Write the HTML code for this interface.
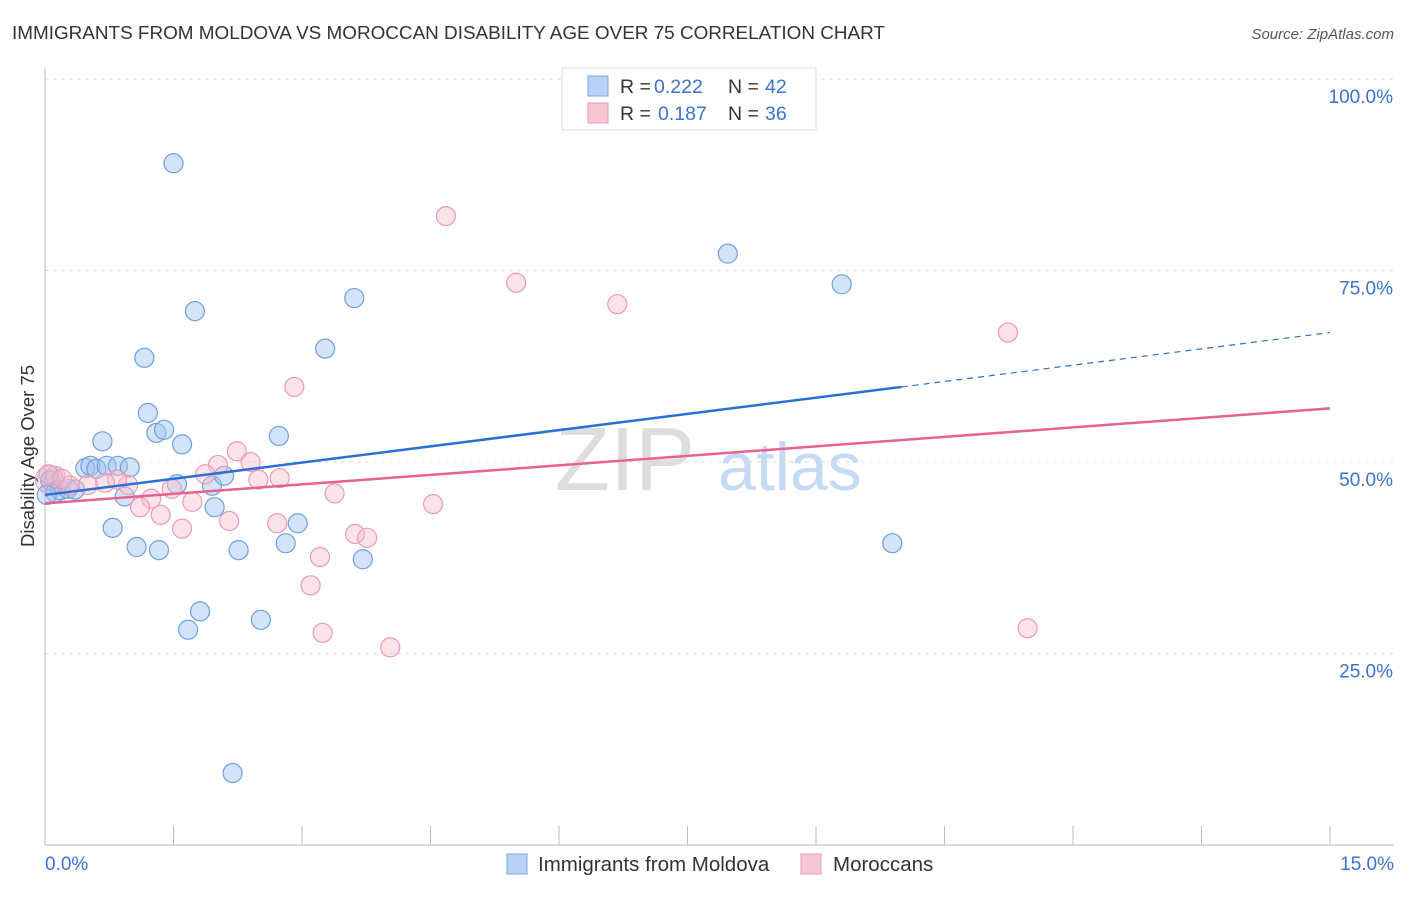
<!DOCTYPE html>
<html><head><meta charset="utf-8"><style>
body{margin:0;background:#fff;font-family:"Liberation Sans",sans-serif;}
svg text{font-family:"Liberation Sans",sans-serif;}
</style></head><body>
<svg id="chart" width="1406" height="892">
<text x="12" y="39" font-size="18.9" fill="#333">IMMIGRANTS FROM MOLDOVA VS MOROCCAN DISABILITY AGE OVER 75 CORRELATION CHART</text>
<text x="1394" y="39" font-size="15" fill="#555" text-anchor="end" font-style="italic">Source: ZipAtlas.com</text>
<text x="34" y="456" font-size="18.5" fill="#333" text-anchor="middle" transform="rotate(-90 34 456)">Disability Age Over 75</text>
<g id="grid"></g>
<g><text x="555" y="490" font-size="90" fill="#ddd" font-family="Liberation Serif">ZIP</text><text x="718" y="490" font-size="68" fill="#c7daf3">atlas</text></g>
<g id="axes"></g>
<g id="pts"></g>
<g id="trends"></g>
<g>
<rect x="562" y="68" width="254" height="62" fill="#fff" stroke="#ddd"/>
<rect x="588" y="76" width="20" height="20" fill="#b7d2f5" stroke="#7aa6e0"/>
<rect x="588" y="103" width="20" height="20" fill="#f8c6d4" stroke="#eb9ab2"/>
<text x="620" y="93" font-size="19.5" fill="#333">R =</text>
<text x="654" y="93" font-size="19.5" fill="#3a73d0">0.222</text>
<text x="728" y="93" font-size="19.5" fill="#333">N =</text>
<text x="765" y="93" font-size="19.5" fill="#3a73d0">42</text>
<text x="620" y="120" font-size="19.5" fill="#333">R =</text>
<text x="658" y="120" font-size="19.5" fill="#3a73d0">0.187</text>
<text x="728" y="120" font-size="19.5" fill="#333">N =</text>
<text x="765" y="120" font-size="19.5" fill="#3a73d0">36</text>
</g>
<g>
<rect x="507" y="854" width="20" height="20" fill="#b7d2f5" stroke="#7aa6e0"/>
<text x="538" y="871" font-size="20.5" fill="#333">Immigrants from Moldova</text>
<rect x="801" y="854" width="20" height="20" fill="#f8c6d4" stroke="#eb9ab2"/>
<text x="833" y="871" font-size="20.5" fill="#333">Moroccans</text>
</g>
</svg>
<script>
const yTicks=[25,50,75,100];
const yTickLabels=["25.0%","50.0%","75.0%","100.0%"];
const xTickLabels=["0.0%","15.0%"];
const blueX=[1.50,1.75,1.16,3.27,3.61,7.97,9.30,1.20,1.30,1.39,1.60,0.67,2.73,0.47,0.53,0.60,0.72,0.85,0.99,1.54,1.95,2.09,0.93,1.98,0.79,1.07,1.33,2.26,2.95,3.71,2.81,1.81,1.67,2.52,2.19,9.89,0.12,0.18,0.27,0.35,0.06,0.02];
const blueY=[89.0,69.7,63.6,64.8,71.4,77.2,73.2,56.4,53.8,54.2,52.3,52.7,53.4,49.2,49.5,49.1,49.5,49.5,49.3,47.1,46.9,48.2,45.5,44.1,41.4,38.9,38.5,38.5,42.0,37.3,39.4,30.5,28.1,29.4,9.4,39.4,46.0,46.3,46.5,46.4,47.6,45.7];
const pinkX=[4.68,5.50,6.68,11.24,2.91,2.24,2.40,2.02,1.87,2.49,2.74,3.38,4.53,1.24,1.11,1.35,1.72,1.48,1.60,2.15,2.71,3.21,3.62,3.76,3.10,3.24,4.03,11.47,0.97,0.84,0.70,0.50,0.29,0.12,0.04,0.20];
const pinkY=[82.1,73.4,70.6,66.9,59.8,51.4,50.0,49.6,48.4,47.7,47.9,45.9,44.5,45.2,44.1,43.1,44.8,46.5,41.3,42.3,42.0,37.6,40.6,40.1,33.9,27.7,25.8,28.3,47.0,47.7,47.3,47.0,46.9,48.2,48.4,47.8];
const blueTrend=[[0,45.7],[10.0,59.8],[15,66.9]];
const pinkTrend=[[0,44.6],[15,57.0]];
const X0=45,X1=1330,Y0=845,Y100=79;
const sx=v=>X0+(v/15)*(X1-X0);
const sy=v=>Y0-(v/100)*(Y0-Y100);
const NS="http://www.w3.org/2000/svg";
function mk(t,a,p){const e=document.createElementNS(NS,t);for(const k in a)e.setAttribute(k,a[k]);p.appendChild(e);return e;}
const grid=document.getElementById('grid'),axes=document.getElementById('axes');
yTicks.forEach((t,i)=>{
 const l=mk('line',{x1:45,x2:1394,y1:sy(t),y2:sy(t),stroke:'#ddd','stroke-dasharray':'4,4'},grid);
 
 
 const tx=mk('text',{x:1393,y:sy(t)+24,'font-size':19,fill:'#3a73d0','text-anchor':'end'},axes);tx.textContent=yTickLabels[i];
 
 
});
const ya=mk('line',{x1:45,x2:45,y1:68,y2:845,stroke:'#bbb'},axes);


const xa=mk('line',{x1:45,x2:1394,y1:845,y2:845,stroke:'#bbb'},axes);


for(let i=0;i<=10;i++){const v=i*1.5;const tk=mk('line',{x1:sx(v),x2:sx(v),y1:826,y2:845,stroke:'#bbb'},axes);
 
 }
[[0,45,'start'],[15,1394,'end']].forEach((d,i)=>{const t=mk('text',{x:d[1],y:870,'font-size':19,fill:'#3a73d0','text-anchor':d[2]},axes);t.textContent=xTickLabels[i];
 
 });
const pts=document.getElementById('pts');
blueX.forEach((x,i)=>{const c=mk('circle',{cx:sx(x),cy:sy(blueY[i]),r:9.5,fill:'rgba(160,196,240,0.45)',stroke:'#6f9fe0','stroke-width':1.2},pts);
 
 });
pinkX.forEach((x,i)=>{const c=mk('circle',{cx:sx(x),cy:sy(pinkY[i]),r:9.5,fill:'rgba(248,190,206,0.45)',stroke:'#ec9ab3','stroke-width':1.2},pts);
 
 });
const big=mk('circle',{cx:sx(0.05),cy:sy(47.7),r:14,fill:'rgba(200,170,200,0.35)',stroke:'#e9a0b8'},pts);


const tr=document.getElementById('trends');
const b1=mk('line',{x1:sx(blueTrend[0][0]),y1:sy(blueTrend[0][1]),x2:sx(blueTrend[1][0]),y2:sy(blueTrend[1][1]),stroke:'#2a6fd6','stroke-width':2.5},tr);


const b2=mk('line',{x1:sx(blueTrend[1][0]),y1:sy(blueTrend[1][1]),x2:sx(blueTrend[2][0]),y2:sy(blueTrend[2][1]),stroke:'#2a6fd6','stroke-width':1.2,'stroke-dasharray':'6,5'},tr);


const p1=mk('line',{x1:sx(pinkTrend[0][0]),y1:sy(pinkTrend[0][1]),x2:sx(pinkTrend[1][0]),y2:sy(pinkTrend[1][1]),stroke:'#e5638e','stroke-width':2.5},tr);


</script>
</body></html>
